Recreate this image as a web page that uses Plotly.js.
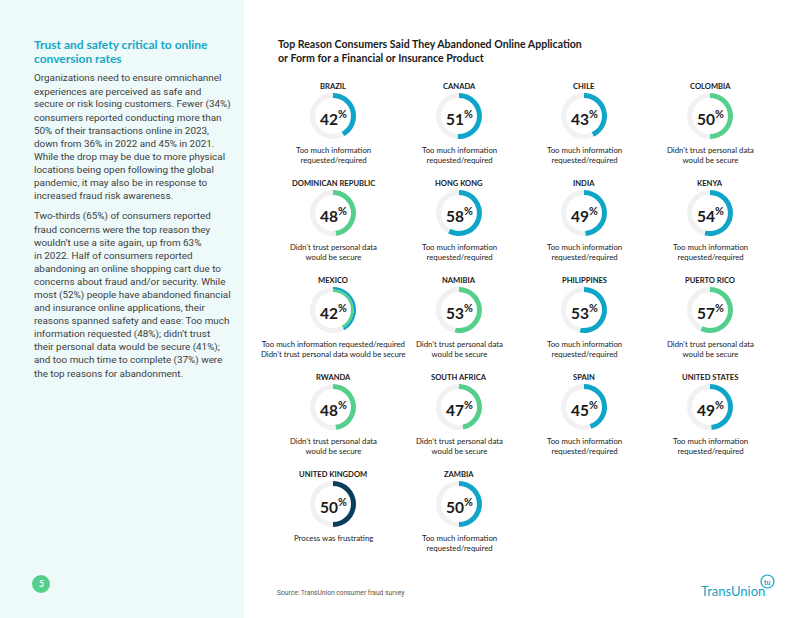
<!DOCTYPE html>
<html><head><meta charset="utf-8">
<script src="https://cdn.plot.ly/plotly-3.0.1.min.js"></script>
<style>html,body{margin:0;padding:0;background:#fff}</style>
</head><body><div id="chart" style="width:800px;height:618px"></div>
<script>
// ---------- data ----------
const countries = ["BRAZIL","CANADA","CHILE","COLOMBIA",
  "DOMINICAN REPUBLIC","HONG KONG","INDIA","KENYA",
  "MEXICO","NAMIBIA","PHILIPPINES","PUERTO RICO",
  "RWANDA","SOUTH AFRICA","SPAIN","UNITED STATES",
  "UNITED KINGDOM","ZAMBIA"];
const values = [42,51,43,50, 48,58,49,54, 42,53,53,57, 48,47,45,49, 50,50];
const reasonTypes = ["info","info","info","trust",
  "trust","info","info","info",
  "both","trust","info","trust",
  "trust","trust","info","info",
  "frustrating","info"];
const reasonLabels = {
  info: "Too much information<br>requested/required",
  trust: "Didn't trust personal data<br>would be secure",
  both: "Too much information requested/required<br>Didn't trust personal data would be secure",
  frustrating: "Process was frustrating"
};
const chartTitle = "Top Reason Consumers Said They Abandoned Online Application<br>or Form for a Financial or Insurance Product";
const sideTitle = ["Trust and safety critical to online","conversion rates"];
const para1 = ["Organizations need to ensure omnichannel",
  "experiences are perceived as safe and",
  "secure or risk losing customers. Fewer (34%)",
  "consumers reported conducting more than",
  "50% of their transactions online in 2023,",
  "down from 36% in 2022 and 45% in 2021.",
  "While the drop may be due to more physical",
  "locations being open following the global",
  "pandemic, it may also be in response to",
  "increased fraud risk awareness."];
const para2 = ["Two-thirds (65%) of consumers reported",
  "fraud concerns were the top reason they",
  "wouldn\u2019t use a site again, up from 63%",
  "in 2022. Half of consumers reported",
  "abandoning an online shopping cart due to",
  "concerns about fraud and/or security. While",
  "most (52%) people have abandoned financial",
  "and insurance online applications, their",
  "reasons spanned safety and ease: Too much",
  "information requested (48%); didn\u2019t trust",
  "their personal data would be secure (41%);",
  "and too much time to complete (37%) were",
  "the top reasons for abandonment."];
const sourceText = "Source: TransUnion consumer fraud survey";
const pageNumber = "5";

// ---------- styling / layout ----------
const W = 800, H = 618;
const BLUE = "#0fa5c9", GREEN = "#55cf8c", NAVY = "#0b3d5c", TRACK = "#f1f1f1";
const colorOf = {info: BLUE, trust: GREEN, frustrating: NAVY};
const colX = [333, 459, 584, 710];
const rowY = [116, 213, 310, 407, 504];
const R = 23, THICK = 5;
const LABEL_FONT = "Lato, 'Open Sans', sans-serif";
const BODY_FONT = "Roboto, sans-serif";

const px = x => x / W;
const py = y => 1 - y / H;

function pieTrace(cx, cy, r, hole, val, color) {
  return {
    type: "pie", values: [val, 100 - val], sort: false, direction: "clockwise",
    rotation: 0, hole: hole, textinfo: "none", hoverinfo: "skip", showlegend: false,
    marker: {colors: [color, TRACK], line: {width: 0}},
    domain: {x: [px(cx - r), px(cx + r)], y: [py(cy + r), py(cy - r)]}
  };
}

const traces = [];
const annotations = [];
const shapes = [];

countries.forEach((c, i) => {
  const cx = colX[i % 4], cy = rowY[Math.floor(i / 4)];
  const t = reasonTypes[i];
  if (t === "both") {
    traces.push(pieTrace(cx, cy, R, (R - THICK / 2) / R, values[i], BLUE));
    traces.push(pieTrace(cx, cy, R - THICK / 2, (R - THICK) / (R - THICK / 2), values[i], GREEN));
  } else {
    traces.push(pieTrace(cx, cy, R, (R - THICK) / R, values[i], colorOf[t]));
  }
  annotations.push({x: px(cx), y: py(cy - 30), xref: "paper", yref: "paper", text: "<b>" + c + "</b>",
    showarrow: false, xanchor: "center", yanchor: "middle", font: {family: LABEL_FONT, size: 7.6, color: "#1a1a1a"}});
  annotations.push({x: px(cx), y: py(cy + 1), xref: "paper", yref: "paper",
    text: "<b>" + values[i] + "<sup>%</sup></b>",
    showarrow: false, xanchor: "center", yanchor: "middle", font: {family: LABEL_FONT, size: 15.5, color: "#1a1a1a"}});
  annotations.push({x: px(cx), y: py(cy + 27), xref: "paper", yref: "paper", text: reasonLabels[t],
    showarrow: false, xanchor: "center", yanchor: "top", align: "center",
    font: {family: LABEL_FONT, size: 7.8, color: "#222"}});
});

// chart title
annotations.push({x: px(276), y: py(36), xref: "paper", yref: "paper", text: "<b>" + chartTitle + "</b>",
  showarrow: false, xanchor: "left", yanchor: "top", align: "left",
  font: {family: LABEL_FONT, size: 10.6, color: "#1a1a1a"}});

// side panel
shapes.push({type: "rect", xref: "paper", yref: "paper", x0: 0, x1: px(244), y0: 0, y1: 1,
  fillcolor: "#eef9f9", line: {width: 0}, layer: "below"});
sideTitle.forEach((l, k) => annotations.push({x: px(32), y: py(45 + k * 13), xref: "paper", yref: "paper",
  text: "<b>" + l + "</b>", showarrow: false, xanchor: "left", yanchor: "middle",
  font: {family: LABEL_FONT, size: 12, color: "#14a8c8"}}));
para1.forEach((l, k) => annotations.push({x: px(32), y: py(78 + k * 13.1), xref: "paper", yref: "paper",
  text: l, showarrow: false, xanchor: "left", yanchor: "middle",
  font: {family: BODY_FONT, size: 9.9, color: "#3d3d3d"}}));
para2.forEach((l, k) => annotations.push({x: px(32), y: py(216 + k * 13.1), xref: "paper", yref: "paper",
  text: l, showarrow: false, xanchor: "left", yanchor: "middle",
  font: {family: BODY_FONT, size: 9.9, color: "#3d3d3d"}}));

// page number
shapes.push({type: "circle", xref: "paper", yref: "paper", x0: px(32), x1: px(50), y0: py(593), y1: py(575),
  fillcolor: GREEN, line: {width: 0}, layer: "below"});
annotations.push({x: px(41), y: py(584), xref: "paper", yref: "paper", text: "<b>" + pageNumber + "</b>",
  showarrow: false, xanchor: "center", yanchor: "middle", font: {family: LABEL_FONT, size: 8.5, color: "#ffffff"}});

// source
annotations.push({x: px(275), y: py(593), xref: "paper", yref: "paper", text: sourceText,
  showarrow: false, xanchor: "left", yanchor: "middle", font: {family: BODY_FONT, size: 6.7, color: "#555"}});

// logo
annotations.push({x: px(769), y: py(591), xref: "paper", yref: "paper", text: "TransUnion<span style='font-size:6px'>.</span>",
  showarrow: false, xanchor: "right", yanchor: "middle", font: {family: LABEL_FONT, size: 13, color: "#14a2c6"}});
shapes.push({type: "circle", xref: "paper", yref: "paper", x0: px(761), x1: px(774), y0: py(588), y1: py(575),
  fillcolor: "rgba(0,0,0,0)", line: {width: 1.2, color: "#14a2c6"}, layer: "below"});
annotations.push({x: px(767.5), y: py(581.5), xref: "paper", yref: "paper", text: "<b>tu</b>",
  showarrow: false, xanchor: "center", yanchor: "middle", font: {family: LABEL_FONT, size: 7, color: "#14a2c6"}});

Plotly.newPlot("chart", traces, {
  width: W, height: H, margin: {l: 0, r: 0, t: 0, b: 0},
  paper_bgcolor: "#ffffff", plot_bgcolor: "#ffffff",
  annotations: annotations, shapes: shapes, showlegend: false
}, {staticPlot: true, displayModeBar: false});
</script></body></html>
